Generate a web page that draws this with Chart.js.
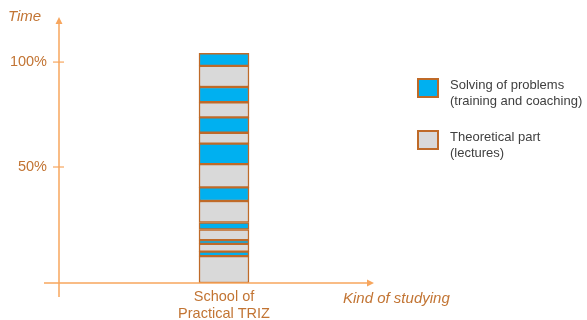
<!DOCTYPE html>
<html>
<head>
<meta charset="utf-8">
<script src="https://cdn.jsdelivr.net/npm/chart.js@4/dist/chart.umd.min.js"></script>
<style>
  html, body { margin: 0; padding: 0; background: #fff; }
  #wrap { width: 587px; height: 320px; }
</style>
</head>
<body>
<div id="wrap"><canvas id="triz"></canvas></div>
<script>
// single stacked column, segments listed bottom -> top
const categories = [['School of', 'Practical TRIZ']];
const segmentKinds = ['theory', 'practice', 'theory', 'practice', 'theory', 'practice', 'theory', 'practice',
  'theory', 'practice', 'theory', 'practice', 'theory', 'practice', 'theory', 'practice'];
const segmentValues = [12.2, 2.0, 3.5, 1.7, 4.8, 3.2, 9.7, 6.2, 10.5, 9.3, 4.9, 7.0, 6.8, 6.9, 9.6, 5.7];
const yTickValues = [52.5, 100];
const yTickLabels = ['50%', '100%'];
const legendKinds = ['practice', 'theory'];
const legendLabels = [['Solving of problems', '(training and coaching)'], ['Theoretical part', '(lectures)']];
const yAxisTitle = 'Time';
const xAxisTitle = 'Kind of studying';

const COLORS = { practice: '#00B0F0', theory: '#D9D9D9' };
const BORDER = '#BF6A28';
const AXIS = '#F7A65E';
const TEXT = '#C27433';
const FONT = '"Liberation Sans", Arial, sans-serif';

const datasets = segmentValues.map((v, i) => ({
  label: segmentKinds[i],
  data: [v],
  backgroundColor: COLORS[segmentKinds[i]],
  borderColor: BORDER,
  borderWidth: 1.5,
  borderSkipped: false,
  barThickness: 50,
  stack: 's',
}));

// axes with arrows, tick marks, titles and the legend
const decorPlugin = {
  id: 'decor',
  afterDraw(chart) {
    const { ctx, chartArea: a, scales } = chart;
    const x0 = a.left, y0 = scales.y.getPixelForValue(0);
    const xEnd = a.right - 15, yEnd = a.top;
    ctx.save();
    ctx.strokeStyle = AXIS;
    ctx.fillStyle = AXIS;
    ctx.lineWidth = 1.5;
    ctx.beginPath();
    ctx.moveTo(x0, y0 + 14); ctx.lineTo(x0, yEnd + 3);
    ctx.moveTo(x0 - 15, y0); ctx.lineTo(xEnd - 3, y0);
    ctx.stroke();
    ctx.beginPath();
    ctx.moveTo(x0, yEnd); ctx.lineTo(x0 - 3.5, yEnd + 7); ctx.lineTo(x0 + 3.5, yEnd + 7); ctx.closePath();
    ctx.moveTo(xEnd, y0); ctx.lineTo(xEnd - 7, y0 - 3.5); ctx.lineTo(xEnd - 7, y0 + 3.5); ctx.closePath();
    ctx.fill();
    ctx.lineWidth = 1.2;
    yTickValues.forEach(v => {
      const py = scales.y.getPixelForValue(v);
      ctx.beginPath(); ctx.moveTo(x0 - 6, py); ctx.lineTo(x0 + 5, py); ctx.stroke();
    });

    ctx.fillStyle = TEXT;
    ctx.font = 'italic 15px ' + FONT;
    ctx.textBaseline = 'middle';
    ctx.textAlign = 'left';
    ctx.fillText(yAxisTitle, 8, yEnd);
    ctx.fillText(xAxisTitle, xEnd - 31, y0 + 16);

    // legend
    const lx = 418, ly = [79, 131];
    legendKinds.forEach((k, i) => {
      ctx.fillStyle = COLORS[k];
      ctx.fillRect(lx, ly[i], 20, 18);
      ctx.strokeStyle = BORDER;
      ctx.lineWidth = 2;
      ctx.strokeRect(lx, ly[i], 20, 18);
      ctx.fillStyle = '#404040';
      ctx.font = '13px ' + FONT;
      legendLabels[i].forEach((line, j) => {
        ctx.fillText(line, lx + 32, ly[i] + 6 + j * 16);
      });
    });
    ctx.restore();
  }
};

new Chart(document.getElementById('triz'), {
  type: 'bar',
  data: { labels: categories, datasets },
  options: {
    responsive: true,
    maintainAspectRatio: false,
    animation: false,
    layout: { padding: { top: 17, right: 198, left: 0, bottom: 0 } },
    plugins: { legend: { display: false }, tooltip: { enabled: false } },
    scales: {
      x: {
        stacked: true,
        grid: { display: false },
        border: { display: false },
        ticks: { color: TEXT, font: { family: FONT, size: 14.5 }, padding: -3 },
        afterFit: s => { s.height = 37; },
      },
      y: {
        stacked: true,
        min: 0,
        max: 120.4,
        grid: { display: false, drawTicks: false },
        border: { display: false },
        afterBuildTicks: s => { s.ticks = yTickValues.map(v => ({ value: v })); },
        ticks: {
          color: TEXT,
          font: { family: FONT, size: 14.5 },
          padding: 12,
          callback: (v) => yTickLabels[yTickValues.indexOf(v)],
        },
        afterFit: s => { s.width = 59; s.paddingTop = 0; s.paddingBottom = 0; },
      },
    },
  },
  plugins: [decorPlugin],
});
</script>
</body>
</html>
